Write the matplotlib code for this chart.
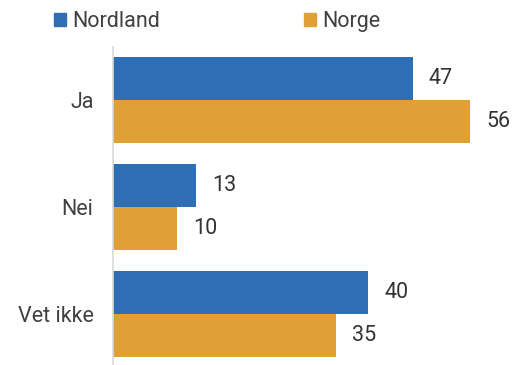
import matplotlib
matplotlib.use("Agg")
from matplotlib import pyplot as plt
from matplotlib.patches import Patch
import numpy as np

categories = ["Ja", "Nei", "Vet ikke"]
nordland = [47, 13, 40]
norge = [56, 10, 35]
series_names = ["Nordland", "Norge"]
colors = ["#2E6EB5", "#E09F37"]

plt.rcParams["font.family"] = ["Roboto", "DejaVu Sans"]

W, H = 526, 365
fig = plt.figure(figsize=(W / 100, H / 100), dpi=100)
# axes: left edge at x=113px, top at y=46.5px, extends slightly below figure
left, top, bottom_px = 113, 46.5, 367.5
ax = fig.add_axes([left / W, (H - bottom_px) / H, (W - left) / W, (bottom_px - top) / H])

y = np.arange(len(categories))
h = 0.40
b1 = ax.barh(y - h / 2, nordland, height=h, color=colors[0])
b2 = ax.barh(y + h / 2, norge, height=h, color=colors[1])

for bars, vals in ((b1, nordland), (b2, norge)):
    for bar, v in zip(bars, vals):
        ax.annotate(str(v), (bar.get_width(), bar.get_y() + bar.get_height() / 2),
                    xytext=(11.5, 0), textcoords="offset points",
                    ha="left", va="center", fontsize=15.5, color="#333333")

ax.set_ylim(len(categories) - 0.5, -0.5)
ax.set_xlim(0, (W - left) / 6.38)
ax.set_yticks(y)
ax.set_yticklabels(categories, fontsize=15.5, color="#404040")
ax.tick_params(axis="y", length=0, pad=14)
ax.set_xticks([])
for s in ("top", "right", "bottom"):
    ax.spines[s].set_visible(False)
ax.spines["left"].set_color("#d9d9d9")
ax.spines["left"].set_linewidth(1.2)

handles = [Patch(color=c, label=n) for c, n in zip(colors, series_names)]
fig.legend(handles=handles, loc="upper left", bbox_to_anchor=(43 / W, 1.0),
           ncol=2, frameon=False, fontsize=15.5, handlelength=0.55, handleheight=0.55,
           handletextpad=0.3, columnspacing=6.7, labelcolor="#404040",
           borderaxespad=0.1)

fig.savefig("out.png", dpi=100)
